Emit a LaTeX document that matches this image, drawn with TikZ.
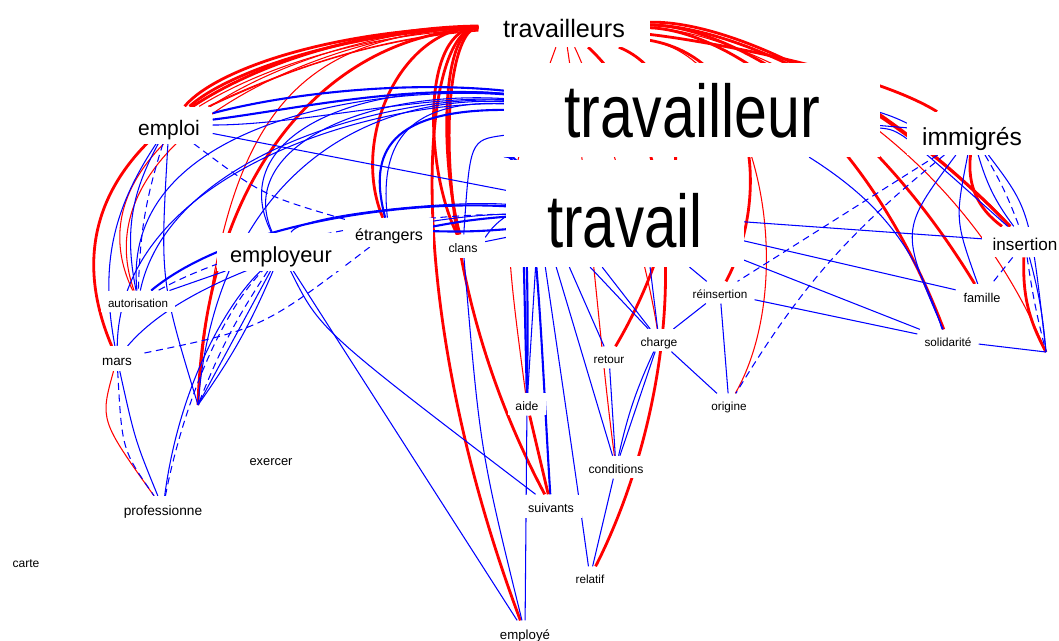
\documentclass[tikz,border=0pt]{standalone}
\usepackage{fontspec}
\setmainfont{Liberation Sans}
\usepackage{graphicx}
\usetikzlibrary{backgrounds}
\begin{document}
\begin{tikzpicture}[x=0.03cm,y=-0.03cm,
  lbase/.style={anchor=base, fill=white, inner ysep=1pt, text=black,
    font=\fontsize{#1pt}{#1pt}\selectfont},
  lb/.style={lbase=#1, inner xsep={0.6*#1pt},
    execute at begin node={\rule[-0.35em]{0pt}{1.65em}}},
  redK/.style={red, line width=2.4pt},
  redT/.style={red, line width=0.9pt},
  bluK/.style={blue, line width=1.8pt},
  bluT/.style={blue, line width=0.9pt},
  bluD/.style={blue, line width=0.9pt, dash pattern=on 6pt off 4pt},
]
\useasboundingbox (0,0) rectangle (1059,641);

% word labels on white plates
\node[lb=21.5, inner xsep=21pt] (TS) at (564,37) {travailleurs};
\node[lbase=63.8, inner xsep=51pt,
  execute at begin node={\rule[-0.25em]{0pt}{1.23em}}] (TR) at (692,137)
  {\scalebox{0.79}[1]{travailleur}};
\node[lbase=63.8, inner xsep=35pt,
  execute at begin node={\rule[-0.25em]{0pt}{1.4em}}] (TV) at (625,247)
  {\scalebox{0.78}[1]{travail}};
\node[lb=21] (IM) at (972,145) {immigrés};
\node[lb=17.9] (EM) at (169,135) {emploi};
\node[lb=18.6] (EY) at (281,262) {employeur};
\node[lb=13.7] (ET) at (389,240) {étrangers};
\node[lb=10.6] (CL) at (463,252) {clans};
\node[lb=14.6] (IN) at (1025,250) {insertion};
\node[lb=9.9] (AU) at (138,307) {autorisation};
\node[lb=11.5] (MA) at (117,365) {mars};
\node[lb=11.7] (PR) at (163,515) {professionne};
\node[lb=11] (EX) at (271,465) {exercer};
\node[lb=10.3] (CA) at (26,567) {carte};
\node[lb=11.3] (EE) at (525,639) {employé};
\node[lb=10.4] (AI) at (527,410) {aide};
\node[lb=10.7] (SU) at (551,512) {suivants};
\node[lb=10] (RE) at (590,583) {relatif};
\node[lb=10.4] (CO) at (616,473) {conditions};
\node[lb=10] (RT) at (609,363) {retour};
\node[lb=10.3] (CH) at (659,346) {charge};
\node[lb=10] (OR) at (729,410) {origine};
\node[lb=10] (RI) at (720,298) {réinsertion};
\node[lb=10.9] (FA) at (982,302) {famille};
\node[lb=10] (SO) at (948,346) {solidarité};
\coordinate (H1) at (198,405);
\coordinate (H2) at (1046,352);

\begin{pgfonlayer}{background}
% red arcs from "travailleurs", left fan
\draw[redK] (TS) .. controls (330,30) and (215,70) .. (EM);
\draw[redK] (TS) .. controls (340,32) and (225,74) .. (EM);
\draw[redT] (TS) .. controls (350,40) and (250,88) .. (EM);
\draw[redT] (TS) .. controls (360,38) and (255,84) .. (EM);
\draw[redT] (TS) .. controls (340,36) and (245,78) .. (EM);
\draw[redK] (TS) .. controls (300,28) and (20,130) .. (MA);
\draw[redT] (TS) .. controls (310,30) and (60,140) .. (AU);
\draw[redT] (TS) .. controls (320,32) and (80,140) .. (AU);
\draw[redT] (MA) .. controls (100,420) .. (PR);
\draw[redK] (TS) .. controls (330,35) and (205,170) .. (H1);
\draw[redT] (TS) .. controls (290,35) and (220,120) .. (H1);
\draw[redK] (TS) .. controls (400,28) and (350,140) .. (ET);
\draw[redK] (TS) .. controls (420,28) and (425,170) .. (CL);
\draw[redK] (TS) .. controls (440,28) and (440,160) .. (CL);
\draw[redK] (TS) .. controls (420,28) and (400,300) .. (EE);
\draw[redK] (TS) .. controls (440,28) and (420,260) .. (SU);
\draw[redT] (TS) .. controls (500,200) .. (AI);
% red arcs from "travailleurs", downwards and to the right
\draw[redK] (TS) .. controls (700,150) and (680,400) .. (RE);
\draw[redK] (TS) .. controls (760,60) and (770,200) .. (RI);
\draw[redK] (TS) .. controls (700,80) and (690,220) .. (RT);
\draw[redT] (TS) .. controls (760,60) and (800,280) .. (OR);
\draw[redT] (TS) .. controls (600,100) and (645,250) .. (CH);
\draw[redT] (TS) .. controls (590,200) and (600,350) .. (CO);
\draw[redK] (TS) .. controls (700,40) and (870,70) .. (IM);
\draw[redK] (TS) .. controls (720,20) and (870,80) .. (IN);
\draw[redK] (TS) .. controls (725,25) and (880,90) .. (IN);
\draw[redK] (TS) .. controls (720,25) and (860,95) .. (FA);
\draw[redK] (TS) .. controls (720,30) and (860,110) .. (SO);
\draw[redT] (TS) .. controls (730,30) and (950,120) .. (H2);
\draw[redK] (IM) to[bend right=30] (IN);
\draw[redK] (IN) to[bend right=15] (H2);

% blue arcs from "travailleur"
\draw[bluK] (TR) .. controls (400,80) and (280,95) .. (EM);
\draw[bluK] (TR) .. controls (400,85) and (290,110) .. (EM);
\draw[bluT] (TR) .. controls (420,95) and (300,125) .. (EM);
\draw[bluT] (TR) .. controls (380,85) and (120,120) .. (AU);
\draw[bluT] (TR) .. controls (400,95) and (170,150) .. (AU);
\draw[bluT] (TR) .. controls (380,100) and (120,170) .. (MA);
\draw[bluT] (TR) .. controls (350,80) and (225,140) .. (EY);
\draw[bluT] (TR) .. controls (360,90) and (235,150) .. (EY);
\draw[bluT] (TR) .. controls (350,95) and (215,190) .. (H1);
\draw[bluK] (TR) .. controls (380,110) and (370,160) .. (ET);
\draw[bluT] (TR) .. controls (400,100) and (380,150) .. (ET);
\draw[bluT] (TR) .. controls (470,140) .. (CL);
\draw[bluK] (TR) .. controls (530,150) and (528,300) .. (AI);
\draw[bluK] (TR) .. controls (536,150) and (540,330) .. (SU);
\draw[bluT] (TR) to[bend left=20] (SO);
\draw[bluT] (TR) .. controls (900,130) .. (IN);
\draw[bluT] (TR) -- (IM);
\draw[bluT] (TR) to[bend left=4] (IM);

% blue links from "travail"
\draw[bluT] (TV) -- (EM);
\draw[bluK] (TV) .. controls (400,200) and (230,225) .. (AU);
\draw[bluD] (TV) .. controls (400,215) and (250,240) .. (AU);
\draw[bluT] (TV) .. controls (450,200) and (300,215) .. (EY);
\draw[bluT] (TV) .. controls (420,215) and (200,260) .. (MA);
\draw[bluK] (TV) to[bend right=3] (ET);
\draw[bluK] (TV) to[bend left=3] (ET);
\draw[bluT] (TV) -- (CL);
\draw[bluT] (TV) to[bend right=10] (CL);
\draw[bluK] (TV.-152) -- (AI);
\draw[bluT] (TV.-149) -- (AI);
\draw[bluT] (TV.-146) .. controls (575,470) .. (RE);
\draw[bluT] (TV.-142) -- (CO);
\draw[bluT] (TV.-136) -- (RT);
\draw[bluT] (TV.-123) -- (CH);
\draw[bluT] (TV.-113) -- (CH);
\draw[bluT] (TV.-65) -- (CH);
\draw[bluT] (TV) -- (RI);
\draw[bluT] (TV) -- (IN);
\draw[bluT] (TV) -- (FA);
\draw[bluT] (TV) -- (SO);

% lower middle
\draw[redK] (AI) -- (SU);
\draw[bluT] (AI) -- (EE);
\draw[bluT] (CL) .. controls (480,450) .. (EE);
\draw[bluT] (CO) -- (CH);
\draw[bluT] (CO) to[bend left=6] (CH);
\draw[bluT] (RT) -- (CO);
\draw[bluT] (CO) -- (RE);
\draw[bluT] (CH) -- (OR);
\draw[bluT] (RI) -- (OR);
\draw[bluT] (RI) -- (CH);
\draw[bluT] (RI) -- (SO);

% lower left
\draw[bluT] (EM) .. controls (160,280) .. (H1);
\draw[bluT] (EM) to[bend right=20] (AU);
\draw[bluD] (EM) to[bend right=8] (AU);
\draw[bluT] (EM) to[bend right=22] (MA);
\draw[bluD] (EM) .. controls (262,195) .. (ET);
\draw[bluT] (AU) -- (EY);
\draw[bluD] (ET) .. controls (262,329) .. (MA);
\draw[bluD] (MA) .. controls (122,450) .. (PR);
\draw[bluT] (MA) .. controls (135,440) .. (PR);
\draw[bluT] (PR) .. controls (180,380) and (230,300) .. (EY);
\draw[bluD] (PR) .. controls (180,420) and (215,320) .. (EY);
\draw[bluT] (EY) -- (H1);
\draw[bluT] (EY) to[bend left=6] (H1);
\draw[bluD] (EY) to[bend right=6] (H1);
\draw[bluT] (EY) -- (EE);
\draw[bluT] (EY) .. controls (320,330) .. (SU);

% right side
\draw[bluT] (IM) .. controls (955,220) .. (FA);
\draw[bluT] (IM) to[bend right=10] (IN);
\draw[bluD] (IM) to[bend left=5] (IN);
\draw[bluT] (IM) .. controls (1030,210) .. (H2);
\draw[bluT] (IM) .. controls (900,230) .. (SO);
\draw[bluD] (IM) -- (RI);
\draw[bluD] (IM) to[bend right=10] (OR);
\draw[bluD] (IN) -- (FA);
\draw[bluT] (IN) to[bend left=5] (H2);
\draw[bluD] (IN) to[bend right=3] (H2);
\draw[bluT] (SO) -- (H2);
\end{pgfonlayer}
\end{tikzpicture}
\end{document}
